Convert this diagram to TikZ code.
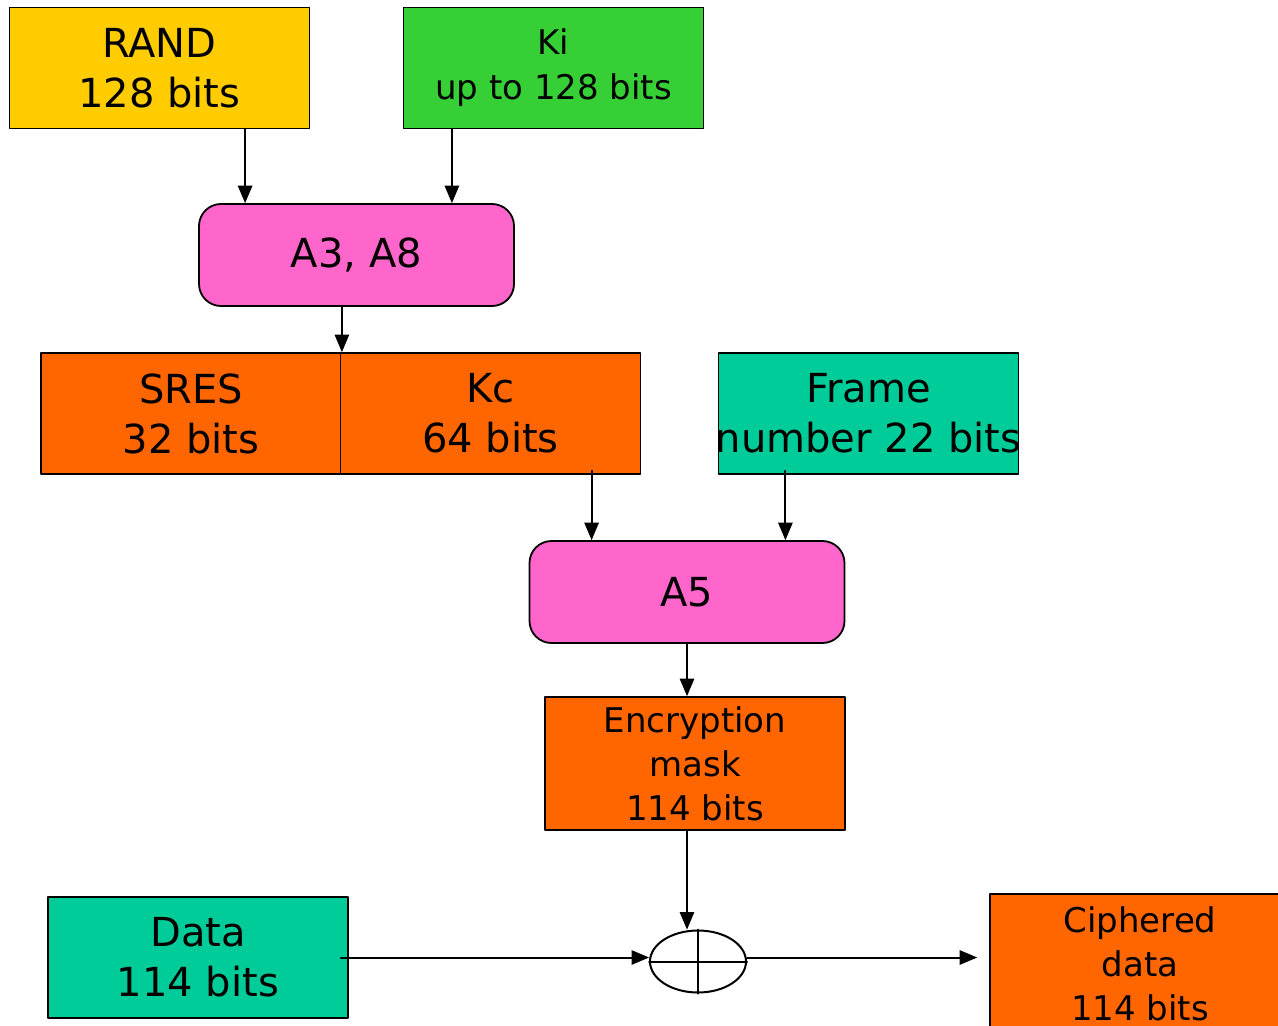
\documentclass[tikz,border=0pt]{standalone}
\usepackage{fontspec}
\setmainfont{DejaVu Sans}
\usetikzlibrary{arrows,shapes.geometric}
\definecolor{randyellow}{HTML}{FFCC00}
\definecolor{kigreen}{HTML}{36CF36}
\definecolor{algpink}{HTML}{FF66CC}
\definecolor{keyorange}{HTML}{FF6600}
\definecolor{frameteal}{HTML}{00CC99}
\begin{document}
\begin{tikzpicture}[line cap=round,line join=round,>=triangle 45,x=0.5pt,y=-0.5pt,
  box/.style={draw,line width=0.9pt,inner sep=0pt,align=center,minimum width=150pt,minimum height=60.5pt,font=\fontsize{20}{25}\selectfont},
  alg/.style={box,rounded corners=11pt,fill=algpink,minimum width=157.5pt,minimum height=51pt},
  arr/.style={->,line width=1pt}]
\useasboundingbox (0,0) rectangle (1278,1026);

% inputs
\node[box,fill=randyellow] (rand) at (159.5,68) {RAND\\128 bits};
\node[box,fill=kigreen,font=\fontsize{17}{22.5}\selectfont] (ki) at (553.5,68) {Ki\\up to 128 bits};
\node[alg] (a3) at (356.5,255) {A3, A8};

% outputs of A3/A8
\node[box,fill=keyorange] (sres) at (191,413.5) {SRES\\32 bits};
\node[box,fill=keyorange] (kc) at (490.5,413.5) {Kc\\64 bits};
\node[box,fill=frameteal] (frame) at (868.5,413.5) {Frame\\\makebox[0pt]{number 22 bits}};

\node[alg] (a5) at (687,592) {A5};
\node[box,fill=keyorange,minimum height=66.5pt,font=\fontsize{17}{22}\selectfont] (mask) at (695,763.5) {Encryption\\mask\\114 bits};

% xor
\node[draw,ellipse,line width=1pt,minimum width=48pt,minimum height=31pt,inner sep=0pt] (xor) at (698,961.5) {};
\draw[line width=1pt] (xor.north) -- (xor.south) (xor.west) -- (xor.east);
\node[box,fill=frameteal] (data) at (198,957.5) {Data\\114 bits};
\node[box,fill=keyorange,minimum height=70pt,font=\fontsize{17}{22}\selectfont] (ciph) at (1140,964) {Ciphered\\data\\114 bits};

\draw[arr] ([xshift=23.5pt]a3.north west |- rand.south) -- ([xshift=23.5pt]a3.north west);
\draw[arr] ([xshift=-31.5pt]a3.north east |- ki.south) -- ([xshift=-31.5pt]a3.north east);
\draw[arr] (a3.south -| sres.north east) -- (sres.north east);
\draw[arr] ([xshift=31.5pt,yshift=2pt]a5.north west |- kc.south) -- ([xshift=31.5pt]a5.north west);
\draw[arr] ([xshift=-30pt,yshift=2pt]a5.north east |- frame.south) -- ([xshift=-30pt]a5.north east);
\draw[arr] (a5.south) -- (a5.south |- mask.north);
\draw[arr] (a5.south |- mask.south) -- (a5.south |- xor.north);
\draw[arr] ([xshift=-4pt]data.east) -- (data.east -| xor.west);
\draw[arr] (xor.east |- data.east) -- ([xshift=-6pt]ciph.west |- data.east);
\end{tikzpicture}
\end{document}
